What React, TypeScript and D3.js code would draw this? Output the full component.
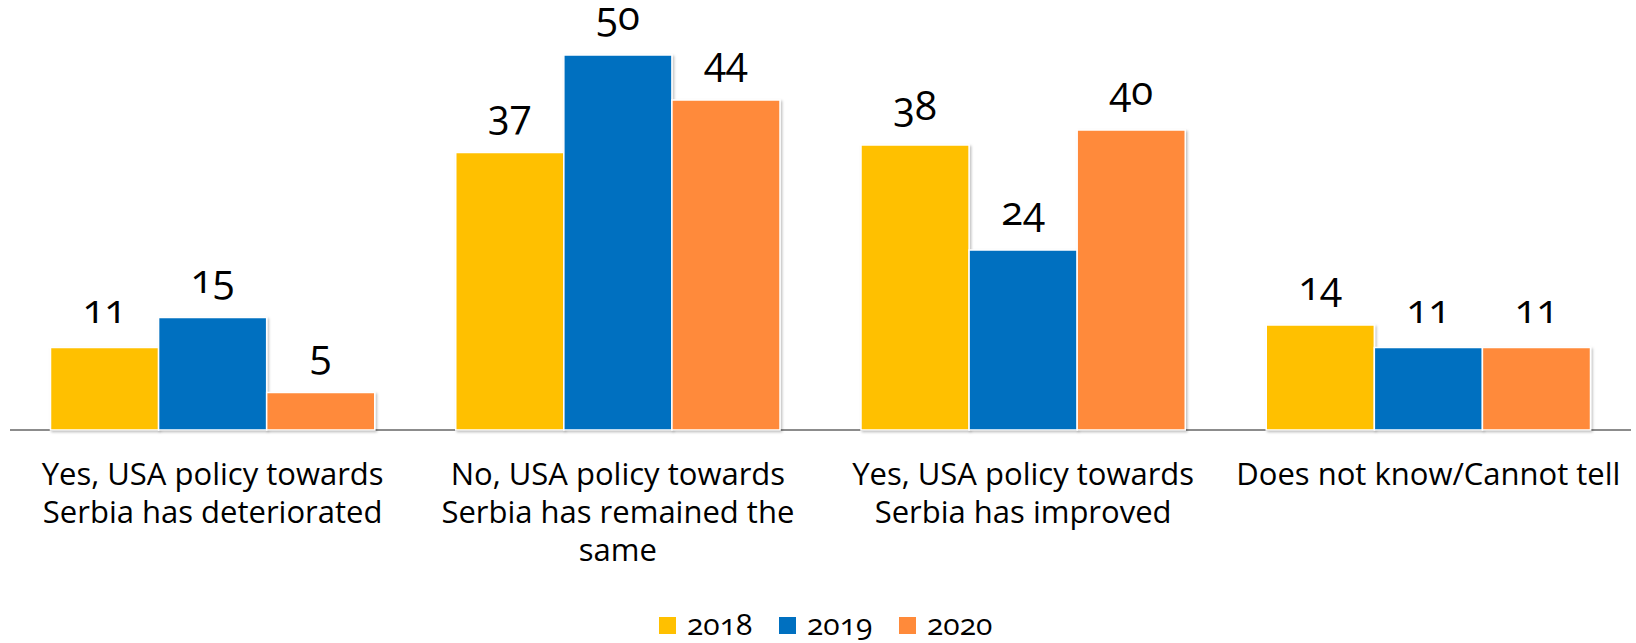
import React from 'react';
import * as d3 from 'd3';

const categories = [
  'Yes, USA policy towards Serbia has deteriorated',
  'No, USA policy towards Serbia has remained the same',
  'Yes, USA policy towards Serbia has improved',
  'Does not know/Cannot tell',
];
const categoryLines = [
  ['Yes, USA policy towards', 'Serbia has deteriorated'],
  ['No, USA policy towards', 'Serbia has remained the', 'same'],
  ['Yes, USA policy towards', 'Serbia has improved'],
  ['Does not know/Cannot tell'],
];
const years = ['2018', '2019', '2020'];
const values2018 = [11, 37, 38, 14];
const values2019 = [15, 50, 24, 11];
const values2020 = [5, 44, 40, 11];
const colors = ['#FFC000', '#0070C0', '#FF8A3A'];

const W = 1636;
const H = 643;
const FONT = "'Open Sans', 'Noto Sans', sans-serif";

const App = () => {
  const series = [values2018, values2019, values2020];

  const x0 = d3.scaleBand<string>().domain(categories).range([10, 1631]);
  const x1 = d3
    .scaleBand<string>()
    .domain(years)
    .range([40.5, x0.bandwidth() - 40.5]);
  const y = d3.scaleLinear().domain([0, 50]).range([430, 55]);

  return (
    <svg
      width={W}
      height={H}
      style={{ position: 'absolute', left: 0, top: 0, background: '#fff' }}
      fontFamily={FONT}
    >
      <defs>
        <filter id="shadow" x="-10%" y="-10%" width="130%" height="130%">
          <feDropShadow dx="1.5" dy="1.5" stdDeviation="1.2" floodColor="#000" floodOpacity="0.25" />
        </filter>
      </defs>

      {/* baseline */}
      <line x1={10} x2={1631} y1={y(0)} y2={y(0)} stroke="#8c8c8c" strokeWidth={2} />

      {/* bars */}
      {categories.map((c, i) => (
        <g key={c} transform={`translate(${x0(c)},0)`}>
          {years.map((yr, j) => {
            const v = series[j][i];
            const bx = x1(yr)!;
            return (
              <rect
                key={yr}
                x={bx}
                y={y(v)}
                width={x1.bandwidth()}
                height={y(0) - y(v)}
                fill={colors[j]}
                stroke="#fff"
                strokeWidth={1.5}
                filter="url(#shadow)"
              />
            );
          })}
          {years.map((yr, j) => {
            const v = series[j][i];
            return (
              <text
                key={'l' + yr}
                x={x1(yr)! + x1.bandwidth() / 2}
                y={y(v) - 25}
                textAnchor="middle"
                fontSize={40}
                fill="#000"
                style={{ fontVariantNumeric: 'oldstyle-nums' }}
              >
                {v}
              </text>
            );
          })}
        </g>
      ))}

      {/* category labels */}
      {categories.map((c, i) => (
        <text
          key={'c' + c}
          x={x0(c)! + x0.bandwidth() / 2}
          y={485}
          textAnchor="middle"
          fontSize={31}
          fill="#000"
        >
          {categoryLines[i].map((line, k) => (
            <tspan key={k} x={x0(c)! + x0.bandwidth() / 2} dy={k === 0 ? 0 : 38}>
              {line}
            </tspan>
          ))}
        </text>
      ))}

      {/* legend */}
      {years.map((yr, j) => (
        <g key={'lg' + yr} transform={`translate(${659 + j * 120},617)`}>
          <rect width={17} height={17} fill={colors[j]} />
          <text
            x={28}
            y={18}
            fontSize={30}
            fill="#000"
            style={{ fontVariantNumeric: 'oldstyle-nums' }}
          >
            {yr}
          </text>
        </g>
      ))}
    </svg>
  );
};

export default App;
